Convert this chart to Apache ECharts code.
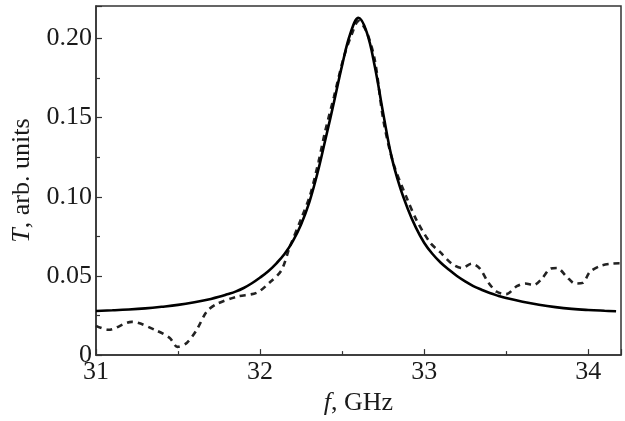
<!DOCTYPE html>
<html>
<head>
<meta charset="utf-8">
<script src="https://cdn.jsdelivr.net/npm/echarts@6/dist/echarts.min.js"></script>
<style>html,body{margin:0;padding:0;background:#fff}#c{width:625px;height:421px}</style>
</head>
<body>
<div id="c"></div>
<script>
// Fitted (solid) curve: frequency (GHz), transmission
var fitF = [31.0, 31.1, 31.2, 31.3, 31.4, 31.5, 31.6, 31.7, 31.75, 31.8, 31.85, 31.9, 31.95, 32.0, 32.05, 32.1, 32.15, 32.2, 32.25, 32.3, 32.35, 32.4, 32.45, 32.5, 32.55, 32.6, 32.65, 32.7, 32.75, 32.8, 32.85, 32.9, 32.95, 33.0, 33.05, 33.1, 33.15, 33.2, 33.25, 33.3, 33.35, 33.4, 33.45, 33.5, 33.6, 33.7, 33.8, 33.9, 34.0, 34.1, 34.17];
var fitT = [0.0279, 0.0283, 0.0288, 0.0295, 0.0305, 0.0317, 0.0334, 0.0355, 0.0368, 0.0384, 0.0401, 0.0424, 0.0454, 0.0490, 0.0530, 0.0580, 0.0640, 0.0720, 0.0825, 0.0965, 0.1150, 0.1370, 0.1595, 0.1830, 0.2030, 0.2130, 0.2040, 0.1820, 0.1530, 0.1260, 0.1070, 0.0925, 0.0805, 0.0710, 0.0640, 0.0585, 0.0540, 0.0500, 0.0466, 0.0436, 0.0413, 0.0392, 0.0375, 0.0360, 0.0337, 0.0318, 0.0303, 0.0292, 0.0285, 0.0280, 0.0277];
// Measured (dashed) curve
var measF = [31.0, 31.075, 31.218, 31.37, 31.45, 31.496, 31.553, 31.614, 31.675, 31.736, 31.858, 31.98, 32.06, 32.13, 32.18, 32.254, 32.305, 32.356, 32.396, 32.45, 32.51, 32.56, 32.6, 32.65, 32.7, 32.752, 32.813, 32.895, 32.955, 33.037, 33.098, 33.169, 33.23, 33.29, 33.34, 33.39, 33.443, 33.5, 33.565, 33.616, 33.667, 33.718, 33.77, 33.81, 33.87, 33.92, 33.967, 34.01, 34.073, 34.14, 34.2];
var measT = [0.0185, 0.016, 0.021, 0.0154, 0.0108, 0.0052, 0.0077, 0.016, 0.0275, 0.0323, 0.0369, 0.0394, 0.046, 0.0535, 0.068, 0.087, 0.101, 0.122, 0.141, 0.163, 0.188, 0.203, 0.211, 0.204, 0.186, 0.148, 0.121, 0.099, 0.085, 0.071, 0.065, 0.0577, 0.055, 0.0577, 0.0546, 0.046, 0.040, 0.0385, 0.0435, 0.0452, 0.0442, 0.0483, 0.0546, 0.055, 0.0494, 0.0452, 0.0456, 0.0525, 0.0563, 0.0577, 0.058];
var xTicks = [31, 32, 33, 34];
var yTicks = [0, 0.05, 0.10, 0.15, 0.20];

function zip(a, b) { return a.map(function (v, i) { return [v, b[i]]; }); }
var FONT = 'Liberation Serif';
var FS = 26;
var axisCol = '#333';
var txtCol = '#1a1a1a';

var chart = echarts.init(document.getElementById('c'), null, {renderer: 'canvas'});
chart.setOption({
  animation: false,
  backgroundColor: '#fff',
  grid: {left: 96, right: 4, top: 6, bottom: 61, show: true, borderColor: axisCol, borderWidth: 1.5, backgroundColor: 'transparent'},
  xAxis: {
    type: 'value', min: 31, max: 34.2, interval: 1,
    name: '{i|f}, GHz', nameLocation: 'middle', nameGap: 34,
    nameTextStyle: {fontFamily: FONT, fontSize: FS, color: txtCol, rich: {i: {fontStyle: 'italic', fontFamily: FONT, fontSize: FS, color: txtCol}}},
    axisLine: {lineStyle: {color: axisCol, width: 1.5}},
    axisTick: {inside: true, length: 6, lineStyle: {color: axisCol, width: 1.2}},
    minorTick: {show: true, splitNumber: 2, length: 4, lineStyle: {color: axisCol, width: 1.2}},
    splitLine: {show: false},
    axisLabel: {fontFamily: FONT, fontSize: FS, color: txtCol, margin: 4,
      formatter: function (v) { return xTicks.indexOf(v) >= 0 ? String(v) : ''; }}
  },
  yAxis: {
    type: 'value', min: 0, max: 0.2205, interval: 0.05,
    name: '{i|T}, arb. units', nameLocation: 'middle', nameGap: 56,
    nameTextStyle: {fontFamily: FONT, fontSize: FS, color: txtCol, rich: {i: {fontStyle: 'italic', fontFamily: FONT, fontSize: FS, color: txtCol}}},
    axisLine: {lineStyle: {color: axisCol, width: 1.5}},
    axisTick: {inside: true, length: 6, lineStyle: {color: axisCol, width: 1.2}},
    minorTick: {show: true, splitNumber: 2, length: 4, lineStyle: {color: axisCol, width: 1.2}},
    splitLine: {show: false},
    axisLabel: {fontFamily: FONT, fontSize: FS, color: txtCol, margin: 4,
      formatter: function (v) {
        for (var k = 0; k < yTicks.length; k++) {
          if (Math.abs(v - yTicks[k]) < 1e-6) return v === 0 ? '0' : yTicks[k].toFixed(2);
        }
        return '';
      }}
  },
  series: [
    {type: 'line', data: zip(measF, measT), showSymbol: false, smooth: 0.3, z: 2,
     lineStyle: {color: '#222', width: 2.6, type: [6, 5]}},
    {type: 'line', data: zip(fitF, fitT), showSymbol: false, smooth: 0.4, z: 3,
     lineStyle: {color: '#000', width: 2.6}}
  ]
});
</script>
</body>
</html>
